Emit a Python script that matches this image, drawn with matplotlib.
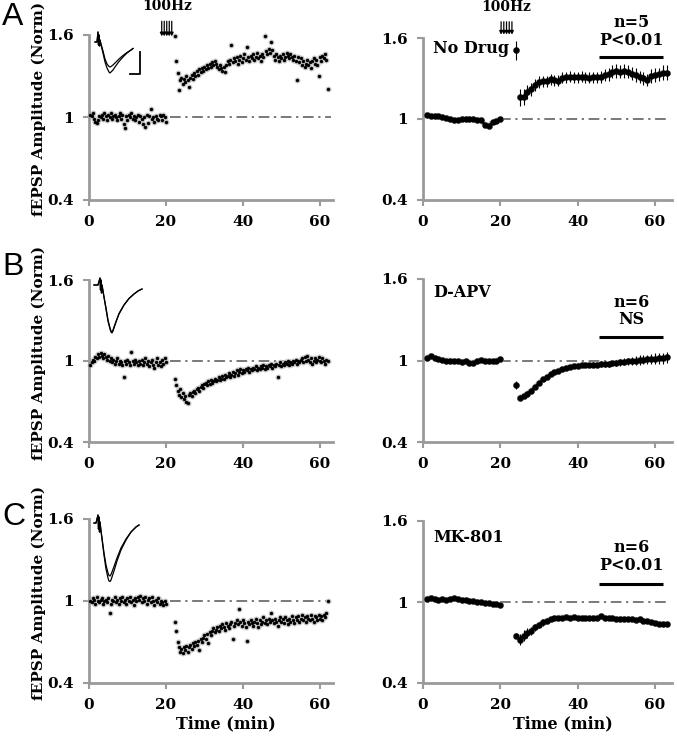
import numpy as np
import matplotlib
matplotlib.use('Agg')
import matplotlib.pyplot as plt

# ---------------- data: single experiments (left), sampled every 1/3 min
a_left_base = [1.02,1.01,1.03,0.99,0.97,0.96,0.98,1.01,1.00,1.02,
               0.99,1.03,1.01,0.98,1.02,1.00,1.03,0.99,1.01,1.02,
               1.00,0.98,1.01,1.03,0.99,1.02,0.95,0.92,1.01,0.98,
               1.02,1.00,1.03,0.99,1.01,0.98,1.00,1.02,0.97,1.01,
               0.99,0.95,1.00,0.93,1.02,0.96,1.01,1.06,0.99,1.00,
               0.97,1.01,0.99,0.98,1.02,1.01,0.98,1.02,1.00,0.97]
a_left_post = [1.59,1.41,1.32,1.20,1.27,1.29,1.24,1.28,1.26,1.30,
               1.27,1.22,1.29,1.31,1.28,1.32,1.30,1.34,1.31,1.35,
               1.33,1.36,1.34,1.37,1.35,1.38,1.36,1.39,1.37,1.40,
               1.38,1.41,1.39,1.37,1.35,1.38,1.36,1.34,1.37,1.33,
               1.38,1.41,1.39,1.42,1.53,1.40,1.43,1.41,1.44,1.39,
               1.42,1.45,1.40,1.43,1.46,1.42,1.51,1.44,1.41,1.45,
               1.43,1.46,1.42,1.44,1.47,1.43,1.45,1.41,1.46,1.44,
               1.59,1.48,1.46,1.50,1.47,1.55,1.49,1.45,1.42,1.46,
               1.44,1.41,1.45,1.43,1.46,1.42,1.44,1.47,1.45,1.43,
               1.46,1.44,1.42,1.45,1.41,1.27,1.44,1.40,1.43,1.38,
               1.41,1.37,1.39,1.42,1.38,1.40,1.36,1.41,1.43,1.39,
               1.42,1.38,1.30,1.44,1.41,1.45,1.43,1.46,1.42,1.21]

b_left_base = [0.97,0.99,1.01,1.00,1.03,1.02,1.05,1.03,1.06,1.04,1.02,1.05,
               1.03,1.01,1.04,1.00,1.02,0.99,1.01,0.98,1.00,1.02,0.98,1.00,
               0.99,0.97,0.88,1.00,0.98,1.01,0.99,0.97,1.07,1.00,0.98,1.01,
               0.99,0.97,1.00,0.98,1.01,0.97,0.99,1.02,0.98,1.00,0.96,0.99,
               1.01,0.97,0.95,0.99,1.02,0.97,0.99,0.96,1.01,0.98,1.02,0.99]
b_left_post = [0.87,0.82,0.78,0.75,0.79,0.73,0.76,0.72,0.74,0.70,
               0.69,0.75,0.76,0.74,0.77,0.78,0.76,0.79,0.80,0.78,
               0.81,0.82,0.80,0.83,0.84,0.82,0.85,0.83,0.86,0.84,
               0.85,0.87,0.85,0.86,0.88,0.86,0.87,0.89,0.87,0.90,
               0.88,0.89,0.91,0.88,0.90,0.92,0.89,0.91,0.93,0.90,
               0.92,0.94,0.91,0.93,0.92,0.94,0.93,0.95,0.92,0.94,
               0.93,0.95,0.94,0.96,0.93,0.95,0.94,0.96,0.95,0.97,
               0.94,0.96,0.95,0.97,0.96,0.98,0.95,0.97,0.96,0.98,
               0.88,0.97,0.99,0.96,0.98,0.97,0.99,0.98,1.00,0.97,
               0.99,0.98,1.00,0.99,1.01,0.98,1.00,0.99,1.01,1.02,
               0.99,1.03,1.00,1.04,1.01,0.99,1.02,0.98,1.00,1.02,
               0.99,1.01,1.03,1.00,0.99,1.02,1.00,0.98,1.01,1.00]

c_left_base = [1.00,0.99,1.02,1.01,0.98,1.03,1.00,0.99,1.01,1.02,
               0.98,1.00,1.01,0.99,1.02,0.91,0.98,1.01,1.00,1.03,
               0.99,1.01,0.98,1.02,1.00,1.03,0.99,1.01,0.98,1.02,
               1.00,1.03,0.99,1.01,0.97,1.02,1.00,1.03,1.01,1.04,
               0.99,1.02,1.00,1.03,0.98,1.01,1.02,0.99,1.03,1.00,
               0.97,1.01,0.99,1.02,0.98,1.00,0.99,0.97,1.00,0.98]
c_left_post = [0.85,0.78,0.70,0.66,0.63,0.65,0.62,0.66,0.64,0.67,
               0.63,0.66,0.68,0.65,0.69,0.67,0.70,0.68,0.71,0.64,
               0.72,0.70,0.73,0.75,0.72,0.76,0.69,0.77,0.75,0.78,
               0.80,0.77,0.79,0.81,0.78,0.82,0.80,0.83,0.81,0.79,
               0.84,0.82,0.80,0.83,0.85,0.72,0.82,0.84,0.86,0.83,
               0.94,0.85,0.82,0.86,0.84,0.81,0.71,0.85,0.83,0.86,
               0.84,0.82,0.85,0.87,0.84,0.81,0.86,0.83,0.85,0.88,
               0.84,0.86,0.83,0.87,0.85,0.91,0.86,0.84,0.87,0.85,
               0.82,0.86,0.88,0.85,0.87,0.84,0.88,0.86,0.83,0.87,
               0.85,0.89,0.86,0.84,0.88,0.86,0.89,0.85,0.87,0.90,
               0.86,0.88,0.85,0.89,0.87,0.86,0.90,0.87,0.85,0.89,
               0.88,0.86,0.90,0.87,0.89,0.86,0.90,0.88,0.91,1.00]

# ---------------- data: group means (right), one point per minute
a_right_base = [1.033,1.025,1.02,1.025,1.012,1.008,1.0,0.993,0.993,0.998,
                1.0,1.0,0.998,0.993,0.99,0.958,0.95,0.975,0.988,1.0]
a_right_post = [1.51,1.16,1.16,1.20,1.22,1.25,1.275,1.28,1.28,1.295,
                1.288,1.283,1.305,1.31,1.312,1.308,1.31,1.313,1.31,1.306,
                1.31,1.31,1.312,1.325,1.33,1.35,1.357,1.35,1.357,1.35,
                1.337,1.325,1.31,1.30,1.29,1.317,1.325,1.33,1.342,1.342]
a_right_err = [0.07,0.065,0.06,0.055,0.05,0.045,0.045,0.04,0.04,0.04,
               0.04,0.04,0.04,0.04,0.04,0.04,0.04,0.04,0.04,0.04,
               0.04,0.04,0.045,0.045,0.045,0.05,0.05,0.05,0.05,0.05,
               0.05,0.05,0.045,0.045,0.045,0.05,0.05,0.05,0.055,0.055]

b_right_base = [1.017,1.035,1.017,1.01,1.005,1.0,1.0,0.993,0.993,0.988,
                0.993,0.985,0.985,0.993,1.005,1.0,0.993,0.993,1.0,1.01]
b_right_post = [0.819,0.727,0.737,0.757,0.777,0.806,0.831,0.861,0.876,0.898,
                0.913,0.926,0.935,0.943,0.955,0.96,0.963,0.965,0.968,0.968,
                0.97,0.97,0.973,0.975,0.975,0.978,0.985,0.987,0.99,0.993,
                0.995,1.0,1.005,1.007,1.008,1.01,1.012,1.017,1.017,1.025]
b_right_err = [0.03,0.02,0.015,0.015,0.012,0.012,0.012,0.012,0.012,0.012,
               0.012,0.012,0.012,0.012,0.012,0.012,0.015,0.015,0.015,0.015,
               0.018,0.018,0.02,0.02,0.02,0.022,0.022,0.025,0.025,0.028,
               0.03,0.03,0.035,0.035,0.035,0.035,0.04,0.04,0.04,0.04]

c_right_base = [1.024,1.032,1.02,1.015,1.02,1.015,1.02,1.027,1.02,1.015,
                1.015,1.007,1.007,1.0,1.0,0.99,0.99,0.983,0.983,0.976]
c_right_post = [0.751,0.722,0.751,0.771,0.788,0.812,0.829,0.849,0.861,0.873,
                0.878,0.885,0.885,0.887,0.885,0.886,0.885,0.883,0.880,0.880,
                0.880,0.885,0.893,0.885,0.880,0.878,0.875,0.875,0.875,0.871,
                0.871,0.866,0.871,0.861,0.856,0.849,0.844,0.839,0.834,0.836]
c_right_err = [0.02,0.04,0.04,0.035,0.03,0.025,0.025,0.025,0.02,0.015,
               0.012,0.01,0.01,0.01,0.01,0.01,0.01,0.01,0.01,0.01,
               0.01,0.01,0.01,0.01,0.01,0.01,0.01,0.01,0.01,0.01,
               0.01,0.01,0.01,0.01,0.01,0.01,0.01,0.01,0.01,0.01]
base_err = 0.012

# ---------------- example fEPSP traces (insets), ms vs arbitrary units
trA_t = [0, 2, 3, 3.5, 4, 4.5, 5, 6, 8, 10, 12, 14, 15, 16, 18, 20, 24, 28, 32, 36, 38]
trA_1 = [0, 0, 1.0, -0.3, 0.7, -0.4, 0.2, -0.2, -0.9, -1.7, -2.2, -2.45, -2.5, -2.45,
         -2.3, -2.1, -1.7, -1.35, -1.05, -0.8, -0.65]
trA_2 = [0, 0, 1.0, -0.3, 0.7, -0.4, 0.2, -0.3, -1.1, -2.0, -2.6, -3.0, -3.1, -3.0,
         -2.8, -2.5, -1.95, -1.5, -1.1, -0.8, -0.65]
trB_t = [0, 4, 6, 6.5, 7, 7.5, 8, 9, 10, 12, 14, 16, 17, 18, 19, 20, 22, 25, 30, 35, 40, 44, 48]
trB_1 = [0, 0, 0.7, -0.5, 0.5, -0.8, 0.0, -0.6, -1.2, -2.4, -3.6, -4.4, -4.7, -4.8, -4.6,
         -4.3, -3.7, -2.9, -2.0, -1.35, -0.9, -0.6, -0.4]
trB_2 = [0, 0, 0.7, -0.5, 0.5, -0.8, 0.0, -0.6, -1.2, -2.3, -3.5, -4.3, -4.6, -4.7, -4.5,
         -4.2, -3.65, -2.85, -2.0, -1.35, -0.9, -0.6, -0.4]
trC_t = [0, 2, 4, 4.5, 5, 5.5, 6, 7, 8, 10, 12, 14, 15, 16, 17, 18, 20, 23, 27, 32, 37, 42, 45]
trC_1 = [0, 0, 0.8, -0.6, 0.6, -0.9, 0.1, -0.8, -1.6, -3.2, -4.6, -5.5, -5.8, -5.85, -5.7,
         -5.4, -4.8, -3.8, -2.7, -1.7, -0.9, -0.4, -0.2]
trC_2 = [0, 0, 0.8, -0.6, 0.6, -0.9, 0.1, -0.8, -1.5, -3.0, -4.2, -5.0, -5.25, -5.3, -5.15,
         -4.9, -4.35, -3.5, -2.5, -1.6, -0.9, -0.4, -0.2]

drug_labels = ['No Drug', 'D-APV', 'MK-801']
stat_labels = ['n=5\nP<0.01', 'n=6\nNS', 'n=6\nP<0.01']
panel_letters = ['A', 'B', 'C']

serif = 'DejaVu Serif'
W, H = 677, 738
fig = plt.figure(figsize=(W / 100, H / 100), dpi=100)


def px_axes(x0, x1, ytop, ybot):
    return fig.add_axes([x0 / W, 1 - ybot / H, (x1 - x0) / W, (ybot - ytop) / H])


def style_axes(ax, xmax):
    ax.set_xlim(0, xmax)
    ax.set_ylim(0.4, 1.6)
    for s in ['top', 'right']:
        ax.spines[s].set_visible(False)
    for s in ['left', 'bottom']:
        ax.spines[s].set_color('#9a9a9a')
        ax.spines[s].set_linewidth(2)
    ax.set_xticks([0, 20, 40, 60])
    ax.set_yticks([0.4, 1, 1.6])
    ax.set_yticklabels(['0.4', '1', '1.6'])
    ax.tick_params(color='#9a9a9a', width=1.5, length=4, pad=7)
    for lab in ax.get_xticklabels() + ax.get_yticklabels():
        lab.set_fontfamily(serif)
        lab.set_fontweight('bold')
        lab.set_fontsize(11)


def stim_arrows(ax, xs, ytop, ytip, label_y):
    for x in xs:
        ax.annotate('', xy=(x, ytip), xytext=(x, ytop), annotation_clip=False,
                    arrowprops=dict(arrowstyle='-|>', lw=0.9, color='k', mutation_scale=5,
                                    shrinkA=0, shrinkB=0))
    ax.text(np.mean(xs), label_y, '100Hz', ha='center', va='center', fontsize=10,
            fontfamily=serif, fontweight='bold', clip_on=False)


rows = [
    dict(top_l=35, top_r=38, bot=200, lb=a_left_base, lp=a_left_post,
         rb=a_right_base, rp=a_right_post, re=a_right_err, split=True, stat_y=1.65,
         bar_y=1.457, drug_y=1.525, tr_t=trA_t, tr=[trA_1, trA_2],
         tr_box=(93, 142, 30, 76), tr_ylim=(-3.4, 1.2), tr_xlim=(-2, 47)),
    dict(top_l=280, top_r=279, bot=442, lb=b_left_base, lp=b_left_post,
         rb=b_right_base, rp=b_right_post, re=b_right_err, split=True, stat_y=1.365,
         bar_y=1.173, drug_y=1.497, tr_t=trB_t, tr=[trB_1, trB_2],
         tr_box=(93, 143, 275, 335), tr_ylim=(-5.0, 1.0), tr_xlim=(-1, 49)),
    dict(top_l=519, top_r=521, bot=683, lb=c_left_base, lp=c_left_post,
         rb=c_right_base, rp=c_right_post, re=c_right_err, split=False, stat_y=1.337,
         bar_y=1.133, drug_y=1.48, tr_t=trC_t, tr=[trC_1, trC_2],
         tr_box=(93, 140, 513, 585), tr_ylim=(-6.2, 1.0), tr_xlim=(-1, 46)),
]

for i, r in enumerate(rows):
    # ---- left: single experiment scatter
    axl = px_axes(89, 333, r['top_l'], r['bot'])
    style_axes(axl, 63.4)
    tb = (np.arange(len(r['lb'])) + 1) / 3.0
    tp = 22 + (np.arange(len(r['lp'])) + 1) / 3.0
    t_all = np.concatenate([tb, tp])
    v_all = np.concatenate([r['lb'], r['lp']])
    axl.hlines(1, 21, 63, colors='#555555', linestyles=(0, (7, 3, 1.5, 3)), lw=1.1, zorder=1)
    axl.scatter(t_all, v_all, s=18, color='#c8c8c8', lw=0, zorder=2, clip_on=False)
    axl.scatter(t_all, v_all, s=6, color='k', lw=0, zorder=3, clip_on=False)
    axl.set_ylabel('fEPSP Amplitude (Norm)', fontfamily=serif, fontweight='bold', fontsize=11)
    axl.yaxis.set_label_coords(-0.175, 0.55)

    # inset traces
    x0, x1, yt, yb = r['tr_box']
    axi = px_axes(x0, x1, yt, yb)
    axi.axis('off')
    axi.set_xlim(*r['tr_xlim'])
    axi.set_ylim(*r['tr_ylim'])
    for tr in r['tr']:
        axi.plot(r['tr_t'], tr, color='k', lw=0.9)
    if i == 0:
        # scale bar
        axi.plot([35, 45, 45], [-3.2, -3.2, -1.0], color='k', lw=1.3)

    # ---- right: group means with error bars
    axr = px_axes(423, 672, r['top_r'], r['bot'])
    style_axes(axr, 64.4)
    axr.hlines(1, 20, 64, colors='#555555', linestyles=(0, (7, 3, 1.5, 3)), lw=1.1, zorder=1)
    tb_r = np.arange(1, len(r['rb']) + 1)
    tp_r = np.arange(24, 24 + len(r['rp']))
    rp = np.array(r['rp'])
    re = np.array(r['re'])
    segs = [(tb_r, np.array(r['rb']), base_err)]
    if r['split']:
        segs += [(tp_r[:1], rp[:1], re[:1]), (tp_r[1:], rp[1:], re[1:])]
    else:
        segs += [(tp_r, rp, re)]
    for tt, vv, ee in segs:
        axr.plot(tt, vv, color='#c4c4c4', lw=4, zorder=2, solid_capstyle='round',
                 marker='o', ms=5, mec='none')
        axr.errorbar(tt, vv, yerr=ee, fmt='-o', color='k', lw=1.8, ms=3.5,
                     elinewidth=0.8, capsize=0, zorder=3)
    axr.text(2.6, r['drug_y'], drug_labels[i], ha='left', va='center', fontsize=11.5,
             fontfamily=serif, fontweight='bold')
    axr.text(54, r['stat_y'], stat_labels[i], ha='center', va='center', fontsize=11.5,
             fontfamily=serif, fontweight='bold', linespacing=1.05, clip_on=False)
    axr.hlines(r['bar_y'], 45.5, 62, colors='k', lw=2.2, clip_on=False)

    if i == 0:
        stim_arrows(axl, [18.9, 19.55, 20.2, 20.85, 21.5], 1.70, 1.59, 1.81)
        stim_arrows(axr, [20.2, 20.9, 21.6, 22.3, 23.0], 1.72, 1.625, 1.83)
    if i == 2:
        for ax in (axl, axr):
            ax.set_xlabel('Time (min)', fontfamily=serif, fontweight='bold', fontsize=11.5)
            ax.xaxis.set_label_coords(0.56, -0.2)

for letter, ytop in zip(panel_letters, [2, 252, 502]):
    fig.text(2 / W, 1 - ytop / H, letter, ha='left', va='top', fontsize=23,
             fontfamily='Liberation Sans')

fig.savefig('out.png', dpi=100, facecolor='white')
